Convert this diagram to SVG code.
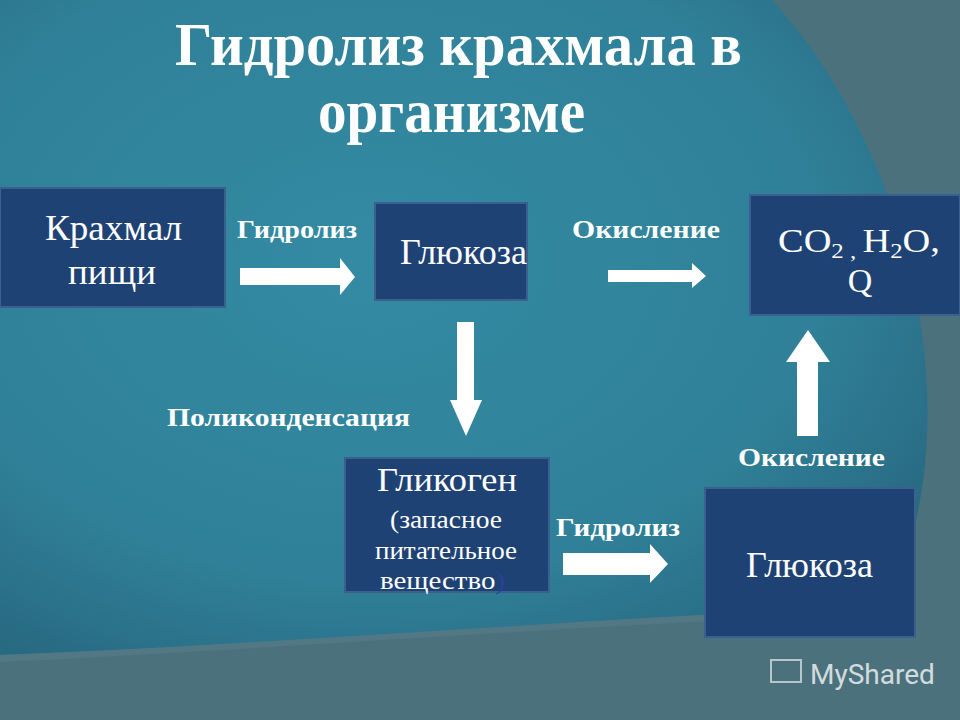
<svg xmlns="http://www.w3.org/2000/svg" width="960" height="720" viewBox="0 0 960 720">
<style>
.box{fill:#1f4275;stroke:#3b5f8f;stroke-width:2}
.t{font-family:"Liberation Serif",serif;fill:#fff}
.lb{font-family:"Liberation Serif",serif;font-weight:bold;font-size:25px;fill:#fff}
.ar{fill:#fff}
</style>
<defs>
<radialGradient id="bg" cx="0.4" cy="0.4" r="0.7">
<stop offset="0" stop-color="#338ba3"/><stop offset="0.7" stop-color="#2f8098"/><stop offset="1" stop-color="#286a82"/>
</radialGradient>
</defs>
<rect width="960" height="720" fill="#4b717d"/>
<path d="M0,0 L772,0 C900,140 965,380 905,560 C880,600 820,610 760,612 C500,625 250,645 0,655 Z" fill="url(#bg)"/>
<path d="M905,560 C880,600 820,610 760,612 C500,625 250,645 0,655 L0,662 C250,650 520,630 770,618 C850,614 900,590 912,560 Z" fill="#5d8592" opacity="0.4"/>
<text class="t" font-weight="bold" font-size="62" x="175" y="65" textLength="567" lengthAdjust="spacingAndGlyphs">Гидролиз  крахмала в</text>
<text class="t" font-weight="bold" font-size="62" x="318" y="132" textLength="267" lengthAdjust="spacingAndGlyphs">организме</text>
<g id="n1"><rect class="box" x="0" y="188" width="225" height="119"/>
<text class="t" font-size="35" x="45" y="240" textLength="137" lengthAdjust="spacingAndGlyphs">Крахмал</text>
<text class="t" font-size="35" x="68" y="284" textLength="88" lengthAdjust="spacingAndGlyphs">пищи</text></g>
<g id="n2"><rect class="box" x="375" y="203" width="152" height="97"/>
<text class="t" font-size="35" x="400" y="264" textLength="127" lengthAdjust="spacingAndGlyphs">Глюкоза</text></g>
<g id="n3"><rect class="box" x="750" y="195" width="210" height="120"/>
<text class="t" font-size="34" x="778" y="252" textLength="162" lengthAdjust="spacingAndGlyphs">CO<tspan font-size="22" dy="6">2 , </tspan><tspan dy="-6">H</tspan><tspan font-size="22" dy="6">2</tspan><tspan dy="-6">O,</tspan></text>
<text class="t" font-size="34" x="860" y="292" text-anchor="middle">Q</text></g>
<g id="n4"><rect class="box" x="345" y="458" width="204" height="134"/>
<text class="t" font-size="33" x="377" y="491" textLength="140" lengthAdjust="spacingAndGlyphs">Гликоген</text>
<text class="t" font-size="25" x="390" y="528" textLength="112" lengthAdjust="spacingAndGlyphs">(запасное</text>
<text class="t" font-size="25" x="375" y="559" textLength="142" lengthAdjust="spacingAndGlyphs">питательное</text>
<text class="t" font-size="25" x="380" y="589" textLength="125" lengthAdjust="spacingAndGlyphs">вещество<tspan fill="#2a3f9a">)</tspan></text></g>
<g id="n5"><rect class="box" x="705" y="488" width="210" height="149"/>
<text class="t" font-size="35" x="746" y="577" textLength="127" lengthAdjust="spacingAndGlyphs">Глюкоза</text></g>
<g id="connectors">
<polygon class="ar" points="240,268 340,268 340,258 355,277 340,295 340,285 240,285"/>
<polygon class="ar" points="608,270 692,270 692,263 706,276 692,288 692,282 608,282"/>
<polygon class="ar" points="457,322 474,322 474,400 482,400 466,436 450,400 457,400"/>
<polygon class="ar" points="797,436 818,436 818,362 830,362 808,330 786,362 797,362"/>
<polygon class="ar" points="563,553 650,553 650,544 668,564 650,583 650,575 563,575"/>
<text class="lb" x="237" y="238" textLength="120" lengthAdjust="spacingAndGlyphs">Гидролиз</text>
<text class="lb" x="572" y="238" textLength="148" lengthAdjust="spacingAndGlyphs">Окисление</text>
<text class="lb" x="167" y="426" textLength="243" lengthAdjust="spacingAndGlyphs">Поликонденсация</text>
<text class="lb" x="738" y="466" textLength="147" lengthAdjust="spacingAndGlyphs">Окисление</text>
<text class="lb" x="556" y="536" textLength="124" lengthAdjust="spacingAndGlyphs">Гидролиз</text>
</g>
<text x="810" y="684" font-family="Roboto,sans-serif" font-size="28" fill="#ffffff" opacity="0.75">MyShared</text>
<rect x="771" y="660" width="30" height="22" fill="none" stroke="#fff" stroke-width="2" opacity="0.6"/>
</svg>
